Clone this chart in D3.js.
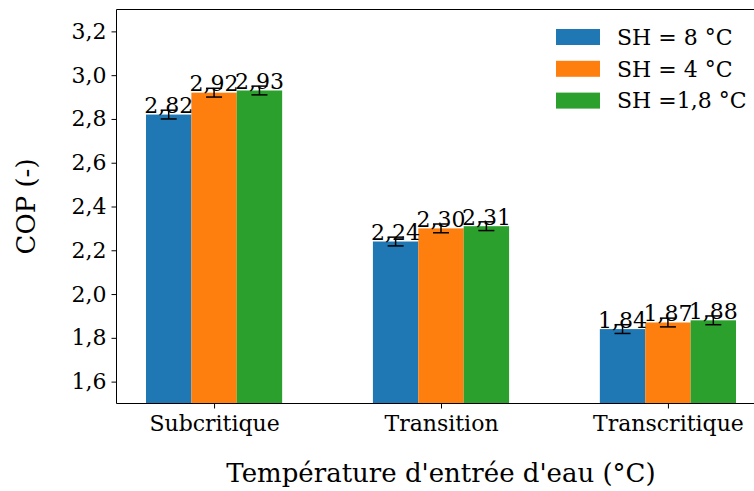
<!DOCTYPE html>
<html>
<head>
<meta charset="utf-8">
<script src="https://cdn.jsdelivr.net/npm/d3@7"></script>
<style>
  html, body { margin: 0; padding: 0; background: #fff; }
  svg { display: block; font-family: "DejaVu Serif", serif; }
</style>
</head>
<body>
<div id="chart"></div>
<script>
// Regimes on the x axis and the three superheat series
const categories = ["Subcritique", "Transition", "Transcritique"];
const seriesNames = ["SH = 8 °C", "SH = 4 °C", "SH =1,8 °C"];
const sh8 = [2.82, 2.24, 1.84];
const sh4 = [2.92, 2.30, 1.87];
const sh18 = [2.93, 2.31, 1.88];
const errSh8 = [0.02, 0.02, 0.02];
const errSh4 = [0.02, 0.02, 0.02];
const errSh18 = [0.02, 0.02, 0.02];
const yTicks = [1.6, 1.8, 2.0, 2.2, 2.4, 2.6, 2.8, 3.0, 3.2];
const colors = ["#1f77b4", "#ff7f0e", "#2ca02c"];

const series = [
  { name: seriesNames[0], values: sh8, err: errSh8, color: colors[0] },
  { name: seriesNames[1], values: sh4, err: errSh4, color: colors[1] },
  { name: seriesNames[2], values: sh18, err: errSh18, color: colors[2] }
];

const W = 754, H = 491;
const margin = { left: 116.5, top: 9.5, right: -11.5, bottom: 87.5 };
const plotW = W - margin.left - margin.right;
const plotH = H - margin.top - margin.bottom;
const FS = 22;

const svg = d3.select("#chart").append("svg")
  .attr("width", W).attr("height", H);

const defs = svg.append("defs");
defs.append("clipPath").attr("id", "plotclip")
  .append("rect").attr("x", 0).attr("y", 0).attr("width", plotW).attr("height", plotH);

const g = svg.append("g").attr("transform", `translate(${margin.left},${margin.top})`);

// numeric x positions: group i at i, bar width 0.2
const barW = 0.2;
const x = d3.scaleLinear().domain([-0.43, 2.43]).range([0, plotW]);
const y = d3.scaleLinear().domain([1.5, 3.3]).range([plotH, 0]);
const fmt = v => d3.format(".2f")(v).replace(".", ",");
const fmtTick = v => d3.format(".1f")(v).replace(".", ",");

const bars = g.append("g").attr("clip-path", "url(#plotclip)");

series.forEach((s, si) => {
  const off = (si - 1) * barW;
  const grp = bars.append("g");
  grp.selectAll("rect").data(s.values).enter().append("rect")
    .attr("x", (d, i) => x(i + off - barW / 2))
    .attr("width", x(barW) - x(0))
    .attr("y", d => y(d))
    .attr("height", d => plotH - y(d))
    .attr("fill", s.color);
});

// value labels and error bars drawn over all bars
series.forEach((s, si) => {
  const off = (si - 1) * barW;
  s.values.forEach((d, i) => {
    const cx = x(i + off);
    g.append("text")
      .attr("x", cx).attr("y", y(d) - 1.5)
      .attr("text-anchor", "middle")
      .attr("font-size", FS)
      .attr("fill", "#000")
      .text(fmt(d));
  });
});
series.forEach((s, si) => {
  const off = (si - 1) * barW;
  s.values.forEach((d, i) => {
    const cx = x(i + off);
    const e = s.err[i];
    const eg = g.append("g").attr("stroke", "#000").attr("stroke-width", 1.5);
    eg.append("line").attr("x1", cx).attr("x2", cx).attr("y1", y(d - e)).attr("y2", y(d + e));
    eg.append("line").attr("x1", cx - 8).attr("x2", cx + 8).attr("y1", y(d - e)).attr("y2", y(d - e));
    eg.append("line").attr("x1", cx - 8).attr("x2", cx + 8).attr("y1", y(d + e)).attr("y2", y(d + e));
  });
});

// axes
const yAxis = d3.axisLeft(y).tickValues(yTicks).tickFormat(fmtTick).tickSize(5).tickPadding(5);
const yg = g.append("g").call(yAxis);
const xAxis = d3.axisBottom(x).tickValues([0, 1, 2]).tickFormat(i => categories[i]).tickSize(5).tickPadding(5);
const xg = g.append("g").attr("transform", `translate(0,${plotH})`).call(xAxis);
[yg, xg].forEach(a => {
  a.select(".domain").remove();
  a.selectAll(".tick line").attr("stroke", "#000").attr("stroke-width", 1);
  a.selectAll(".tick text").attr("font-family", "DejaVu Serif").attr("font-size", FS).attr("fill", "#000");
});
xg.selectAll(".tick text").attr("dy", "0.8em");

// spines
const spine = g.append("g").attr("stroke", "#000").attr("stroke-width", 1).attr("fill", "none");
spine.append("line").attr("x1", 0).attr("x2", 0).attr("y1", 0).attr("y2", plotH);
spine.append("line").attr("x1", 0).attr("x2", plotW).attr("y1", plotH).attr("y2", plotH);
spine.append("line").attr("x1", 0).attr("x2", plotW).attr("y1", 0).attr("y2", 0);

// axis titles
svg.append("text")
  .attr("x", margin.left + plotW / 2).attr("y", 482)
  .attr("text-anchor", "middle").attr("font-size", 26).attr("fill", "#000")
  .text("Température d'entrée d'eau (°C)");
svg.append("text")
  .attr("transform", `translate(35,${margin.top + plotH / 2}) rotate(-90)`)
  .attr("text-anchor", "middle").attr("font-size", 26).attr("fill", "#000")
  .text("COP (-)");

// legend
const lg = svg.append("g").attr("transform", "translate(556,29)");
series.forEach((s, si) => {
  const row = lg.append("g").attr("transform", `translate(0,${si * 31.8})`);
  row.append("rect").attr("x", 0).attr("y", 0).attr("width", 44).attr("height", 16).attr("fill", s.color);
  row.append("text").attr("x", 61).attr("y", 8).attr("dy", "0.35em")
    .attr("font-size", FS).attr("fill", "#000").text(s.name);
});
</script>
</body>
</html>
